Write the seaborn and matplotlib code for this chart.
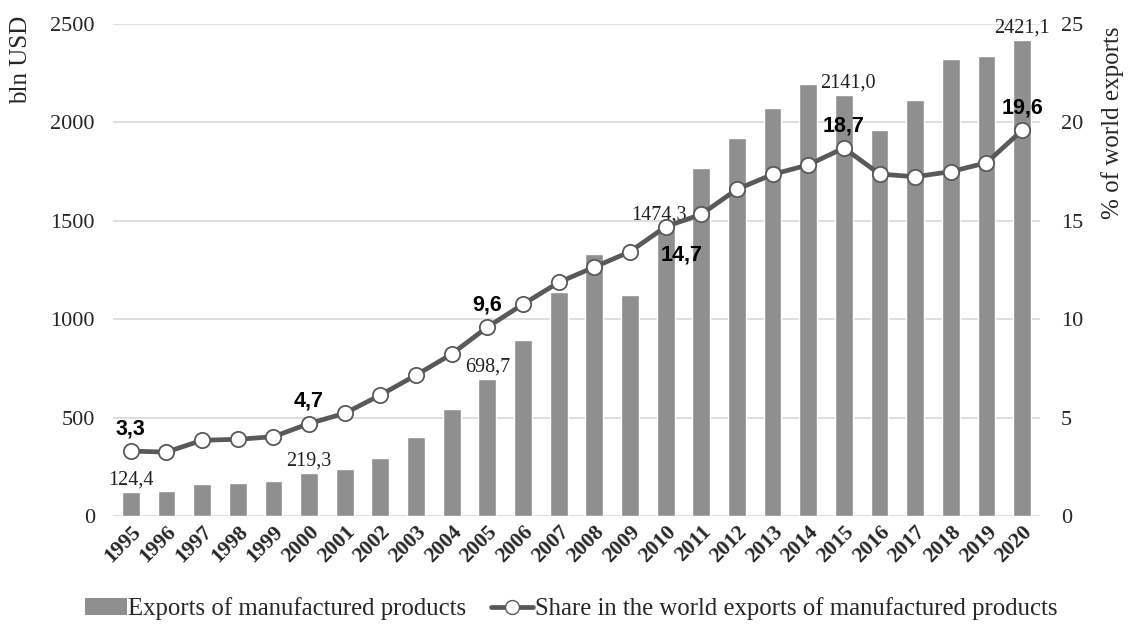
import pandas as pd
import matplotlib.pyplot as plt
import seaborn as sns
from matplotlib.lines import Line2D
from matplotlib.patches import Patch

years = [str(y) for y in range(1995, 2021)]
exports = [124.4, 125, 161, 166, 178, 219.3, 240, 296, 400, 544,
           698.7, 896, 1137, 1330, 1123, 1474.3, 1767, 1920, 2075, 2195,
           2141.0, 1961, 2114, 2320, 2339, 2421.1]
share = [3.3, 3.25, 3.85, 3.9, 4.03, 4.7, 5.22, 6.15, 7.16, 8.23,
         9.6, 10.76, 11.87, 12.65, 13.43, 14.7, 15.33, 16.6, 17.36, 17.84,
         18.7, 17.38, 17.24, 17.5, 17.95, 19.6]

bar_labels = {"1995": "124,4", "2000": "219,3", "2005": "698,7",
              "2010": "1474,3", "2015": "2141,0", "2020": "2421,1"}
share_labels = {"1995": "3,3", "2000": "4,7", "2005": "9,6",
                "2010": "14,7", "2015": "18,7", "2020": "19,6"}


def main() -> None:
    sns.set_theme(style="white")
    plt.rcParams["font.family"] = ["Liberation Serif", "DejaVu Serif"]

    data = pd.DataFrame({"Year": years, "Exports": exports, "Share": share})

    fig = plt.figure(figsize=(11.31, 6.24), dpi=100)
    ax = fig.add_axes([0.0999, 0.173, 0.8196, 0.7885])
    ax2 = ax.twinx()

    bar_color = "#8f8f8f"
    line_color = "#595959"
    sans = ["Liberation Sans", "DejaVu Sans"]

    sns.barplot(data=data, x="Year", y="Exports", color=bar_color, width=0.5,
                saturation=1, ax=ax, zorder=2)
    sns.lineplot(data=data, x="Year", y="Share", ax=ax2, color=line_color,
                 linewidth=3.4, marker="o", markersize=11,
                 markerfacecolor="white", markeredgecolor=line_color,
                 markeredgewidth=1.3, sort=False, zorder=3)

    ax.set_ylim(0, 2500)
    ax2.set_ylim(0, 25)
    ax.set_xlim(-0.5, len(years) - 0.5)
    ax.set_yticks(range(0, 2501, 500))
    ax2.set_yticks(range(0, 26, 5))

    ax.grid(axis="y", color="#d9d9d9", linewidth=1.2, zorder=0)
    ax.set_axisbelow(True)
    for a in (ax, ax2):
        for s in a.spines.values():
            s.set_visible(False)
        a.tick_params(length=0)
    ax.tick_params(axis="y", labelsize=16, pad=13)
    ax2.tick_params(axis="y", labelsize=16, pad=15)
    ax.set_xlabel("")
    ax.set_ylabel("bln USD", fontsize=18)
    ax.yaxis.set_label_coords(-0.087, 0.927)
    ax2.set_ylabel("% of world exports", fontsize=18)
    ax2.yaxis.set_label_coords(1.066, 0.80)

    ax.set_xticks(range(len(years)))
    ax.set_xticklabels(years, rotation=45, ha="right", rotation_mode="anchor",
                       fontsize=15.5, fontweight="bold")
    ax.tick_params(axis="x", pad=4)

    # bar value labels
    offsets = {"2010": (-0.2, 12), "2015": (0.12, 12), "2020": (0, 10)}
    for i, yr in enumerate(years):
        if yr in bar_labels:
            dx, dy = offsets.get(yr, (0, 10))
            yv = exports[i]
            if yr == "2010":
                yv = share[i] * 100
            ax.text(i + dx, yv + dy, bar_labels[yr], ha="center", va="bottom",
                    fontsize=14.5, color="#222222")

    # share labels
    for i, yr in enumerate(years):
        if yr in share_labels:
            if yr == "2010":
                ax2.text(i + 0.45, share[i] - 0.9, share_labels[yr], ha="center",
                         va="top", fontsize=15.5, fontweight="bold",
                         family=sans, color="black", zorder=5)
            else:
                ax2.text(i, share[i] + 0.6, share_labels[yr], ha="center",
                         va="bottom", fontsize=15.5, fontweight="bold",
                         family=sans, color="black", zorder=5)

    handles = [
        Patch(facecolor=bar_color, edgecolor="none"),
        Line2D([0], [0], color=line_color, linewidth=3.4, marker="o",
               markersize=10, markerfacecolor="white",
               markeredgecolor=line_color),
    ]
    labels = ["Exports of manufactured products",
              "Share in the world exports of manufactured products"]
    if ax2.get_legend():
        ax2.get_legend().remove()
    fig.legend(handles, labels, loc="lower center", ncol=2, frameon=False,
               fontsize=17.8, bbox_to_anchor=(0.505, -0.03), handlelength=1.7,
               handletextpad=0.05, columnspacing=1.0)

    fig.savefig("out.png", dpi=100)


if __name__ == "__main__":
    main()
